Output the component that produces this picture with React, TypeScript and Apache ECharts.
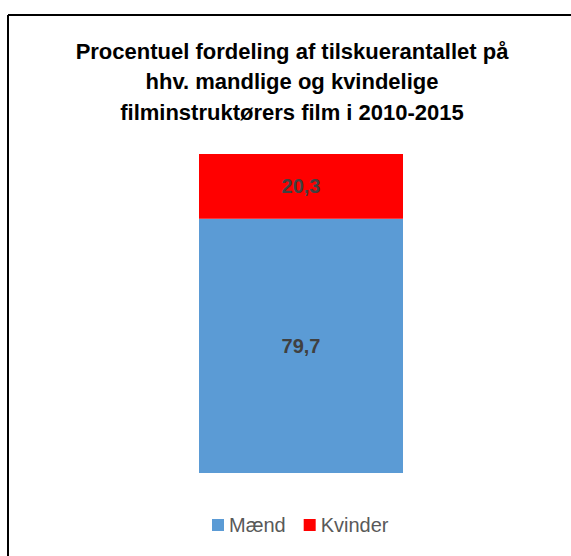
import React, { useEffect, useRef } from "react";
import * as echarts from "echarts";

const categories = ["2010-2015"];
const maendValues = [79.7];
const kvinderValues = [20.3];
const seriesNames = ["Mænd", "Kvinder"];
const titleLines = [
  "Procentuel fordeling af tilskuerantallet på",
  "hhv. mandlige og kvindelige",
  "filminstruktørers film i 2010-2015",
];

export default function App() {
  const ref = useRef<HTMLDivElement>(null);
  useEffect(() => {
    if (!ref.current) return;
    const chart = echarts.init(ref.current, null, { renderer: "svg" });
    const fmt = (p: any) => String(p.value).replace(".", ",");
    const labelStyle = {
      show: true,
      position: "inside",
      formatter: fmt,
      fontFamily: "Liberation Sans, Arial, sans-serif",
      fontWeight: "bold",
      fontSize: 20,
      color: "#404040",
    };
    chart.setOption({
      animation: false,
      backgroundColor: "#ffffff",
      title: {
        text: titleLines.join("\n"),
        left: 287,
        textAlign: "center",
        top: 31,
        textStyle: {
          fontFamily: "Liberation Sans, Arial, sans-serif",
          fontWeight: "bold",
          fontSize: 22,
          lineHeight: 30.5,
          color: "#000000",
        },
      },
      graphic: [
        { type: "line", shape: { x1: 8, y1: 15, x2: 571, y2: 15 }, style: { stroke: "#000", lineWidth: 2 } },
        { type: "line", shape: { x1: 8, y1: 15, x2: 8, y2: 556 }, style: { stroke: "#000", lineWidth: 2 } },
      ],
      legend: {
        top: 510,
        left: 207,
        itemWidth: 12,
        itemHeight: 12,
        itemGap: 18,
        icon: "rect",
        textStyle: {
          fontFamily: "Liberation Sans, Arial, sans-serif",
          fontSize: 20,
          color: "#595959",
        },
        data: seriesNames,
      },
      grid: { left: 199, width: 204, top: 154, bottom: 83 },
      xAxis: {
        type: "category",
        data: categories,
        show: false,
      },
      yAxis: { type: "value", min: 0, max: 100, show: false },
      series: [
        {
          name: seriesNames[0],
          type: "bar",
          stack: "t",
          barWidth: "100%",
          data: maendValues,
          itemStyle: { color: "#5b9bd5" },
          label: labelStyle,
        },
        {
          name: seriesNames[1],
          type: "bar",
          stack: "t",
          barWidth: "100%",
          data: kvinderValues,
          itemStyle: { color: "#ff0000" },
          label: labelStyle,
        },
      ],
    });
    return () => chart.dispose();
  }, []);
  return (
    <div
      ref={ref}
      style={{ position: "absolute", left: 0, top: 0, width: 571, height: 556 }}
    />
  );
}
